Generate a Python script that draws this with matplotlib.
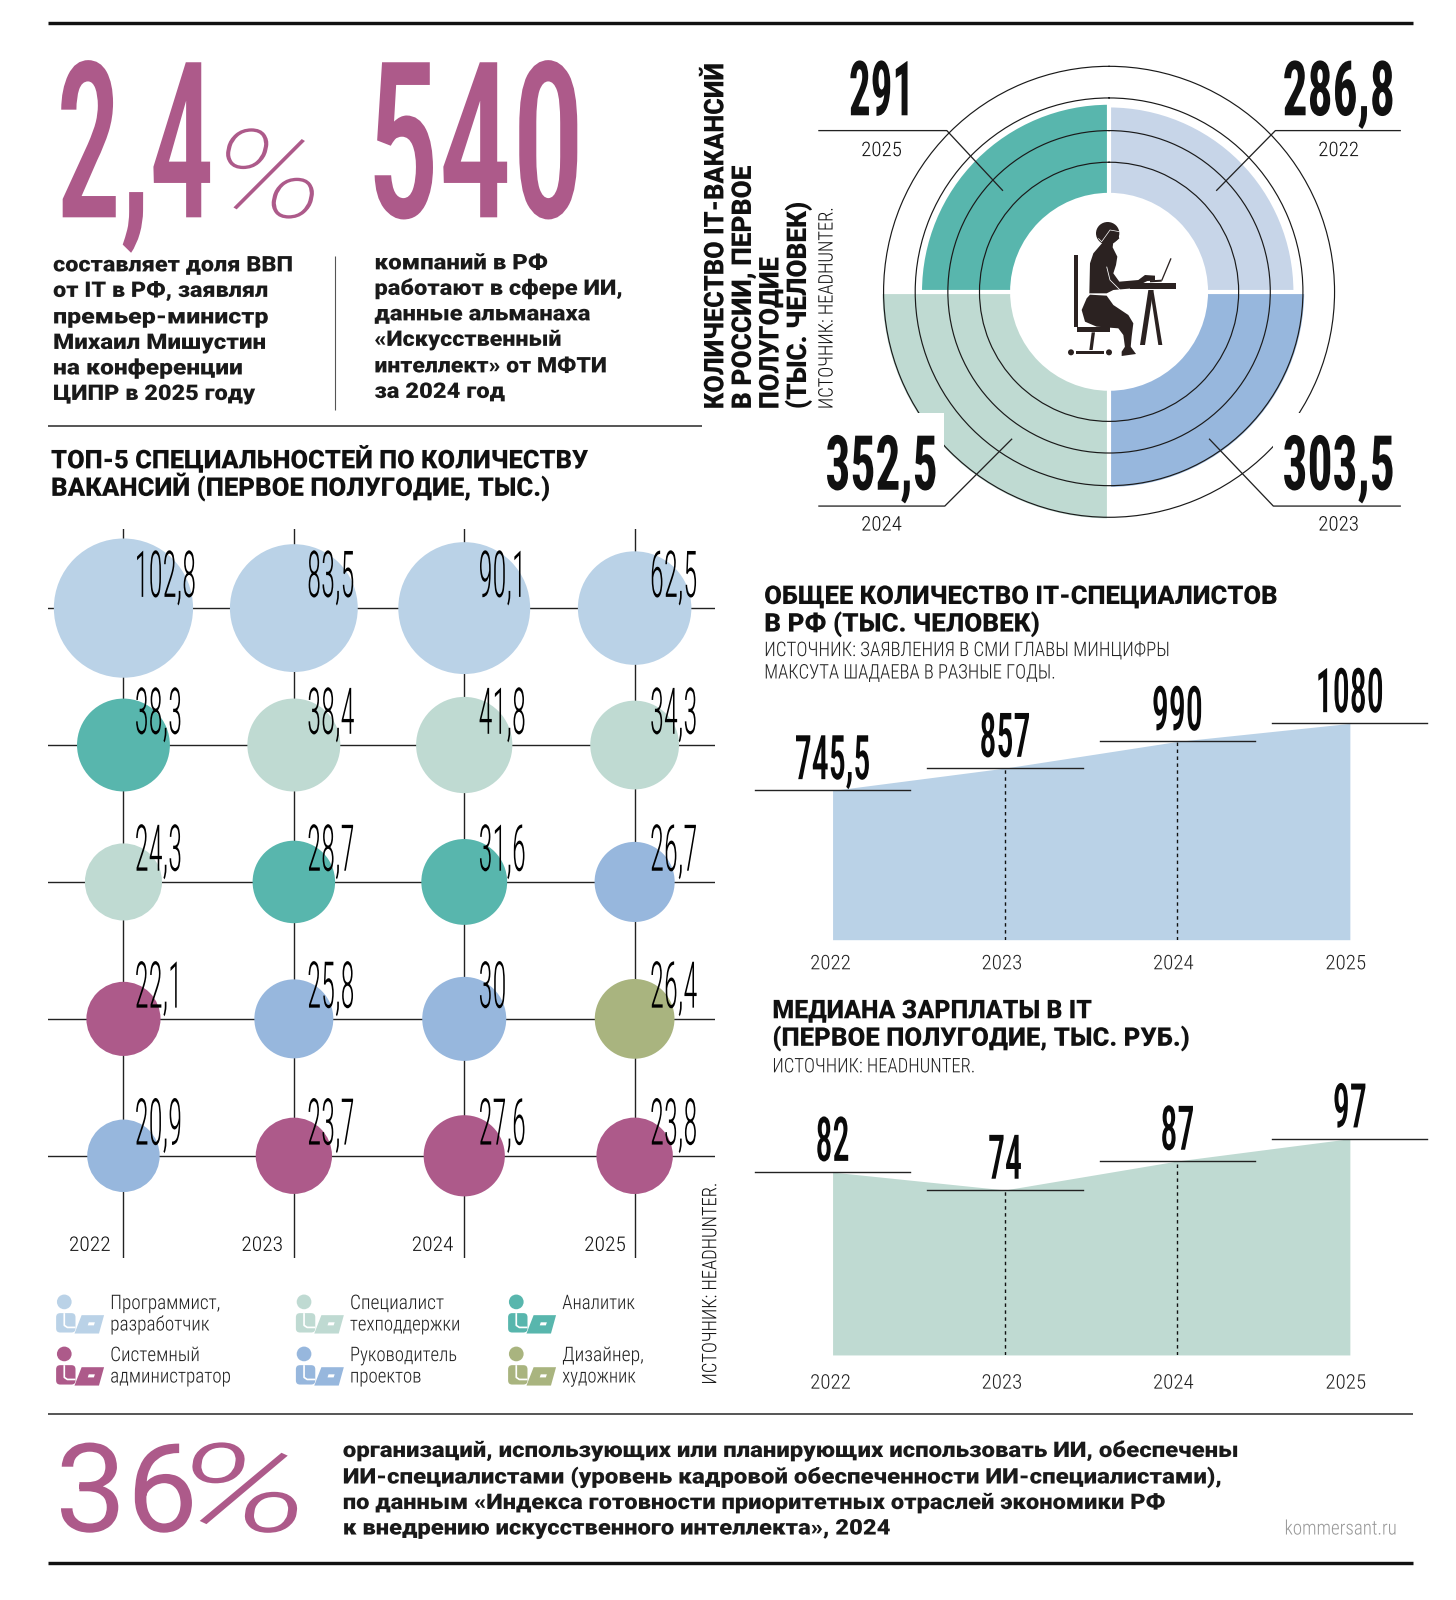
import numpy as np
import matplotlib
matplotlib.use('Agg')
import matplotlib.pyplot as plt
from matplotlib.patches import Ellipse, Polygon, Rectangle, Circle, FancyBboxPatch
from matplotlib.patheffects import AbstractPathEffect
from matplotlib.transforms import Affine2D

# ---------- data ----------
years = ['2022', '2023', '2024', '2025']
vac_years = ['2022', '2023', '2024', '2025']
vacancies = [286.8, 303.5, 352.5, 291]
prog = [102.8, 83.5, 90.1, 62.5]
second = [38.3, 38.4, 41.8, 34.3]
third = [24.3, 28.7, 31.6, 26.7]
fourth = [22.1, 25.8, 30, 26.4]
fifth = [20.9, 23.7, 27.6, 23.8]
second_cat = ['analyst', 'support', 'support', 'support']
third_cat = ['support', 'analyst', 'analyst', 'pm']
fourth_cat = ['admin', 'pm', 'pm', 'designer']
fifth_cat = ['pm', 'admin', 'admin', 'admin']
prog_cat = ['dev', 'dev', 'dev', 'dev']
specialists = [745.5, 857, 990, 1080]
salary = [82, 74, 87, 97]

C = dict(dev='#BAD2E7', support='#BFDAD2', analyst='#58B6AD', admin='#AD5A8A', pm='#97B7DD', designer='#A9B47F')
MAG = '#AD5A8A'
INK = '#111111'
W, H = 1456, 1600
S = 1.0203


class Squeeze(AbstractPathEffect):
    def __init__(self, t):
        super().__init__()
        self.t = t

    def draw_path(self, renderer, gc, tpath, affine, rgbFace=None):
        renderer.draw_path(gc, tpath, affine + self.t, rgbFace)


fig = plt.figure(figsize=(W / 100, H / 100), dpi=100, facecolor='white')


def axes_px(x0, x1, y0, y1, **kw):
    return fig.add_axes([x0 * S / W, 1 - y1 * S / H, (x1 - x0) * S / W, (y1 - y0) * S / H], **kw)


ov = fig.add_axes([0, 0, 1, 1], zorder=10)
ov.set_xlim(0, W / S)
ov.set_ylim(H / S, 0)
ov.axis('off')
ov.patch.set_alpha(0)
rend = fig.canvas.get_renderer()

COND = ['Roboto Condensed', 'DejaVu Sans']
HEAVY = ['Roboto', 'DejaVu Sans']


def T(x, base, s, h=14, w=None, sx=None, family=COND, weight=300, color=INK, ha='left', rot=0, style='normal', z=5,
      tall=False, shift=0):
    """Real text; its glyphs are narrowed along the line. tall=True sets the font at the narrow width and
    stretches the glyphs upward instead, so that the text's own box is as narrow as its glyphs."""
    size = h * S / 0.711 * 0.72
    t = ov.text(x, base, s, fontsize=size, family=family, weight=weight, color=color, ha=ha, va='baseline',
                rotation=rot, rotation_mode='anchor', style=style, zorder=z)
    if w is not None:
        e = t.get_window_extent(rend)
        sx = w * S / (e.height if rot == 90 else e.width)
    if sx is not None:
        ax_, ay_ = ov.transData.transform((x, base))
        if tall:
            t.set_fontsize(size * sx)
            scale = (1, 1 / sx)
        else:
            scale = (sx, 1)
        tr = Affine2D().translate(-ax_, -ay_).rotate_deg(-rot).scale(*scale).rotate_deg(rot).translate(ax_ + shift * S, ay_)
        t.set_path_effects([Squeeze(tr)])
        if not tall:
            orig = t.get_window_extent
            t.get_window_extent = lambda renderer=None, dpi=None, _o=orig, _t=tr: _o(renderer, dpi).transformed(_t)
    return t


def L(xs, ys, lw=1.4, color='#222222', z=3, **kw):
    ov.plot(xs, ys, lw=lw * 0.72, color=color, zorder=z, solid_capstyle='butt', **kw)


def to_shown(ax, x, y):
    return ov.transData.inverted().transform(ax.transData.transform((x, y)))


def fmt(v):
    return f'{v:g}'.replace('.', ',')


# ---------- rules ----------
L([47, 1385], [23, 23], lw=3.4, color='#111111')
L([47, 1385], [1532, 1532], lw=3.4, color='#111111')
L([47, 1385], [1386, 1386], lw=1.5)
L([47, 688], [418, 418], lw=1.5)
L([328, 328], [251, 402], lw=1.1, color='#555555')

# ---------- big numbers ----------
T(55, 213, '2,4', h=152, w=155, weight=500, color=MAG, tall=True)
T(211, 213, '%', h=86, w=112, family=HEAVY, weight=250, style='italic', color=MAG, shift=-4)
T(359, 213, '540', h=152, w=214, weight=500, color=MAG, tall=True)
T(54, 1501, '36', h=86, w=140, family=HEAVY, weight=400, color=MAG, tall=True)
T(196, 1501, '%', h=86, w=133, family=HEAVY, weight=300, style='italic', color=MAG, shift=-25)

left_lines = [('составляет доля ВВП', 235, 266), ('от IT в РФ, заявлял', 211, 291), ('премьер-министр', 211, 317),
              ('Михаил Мишустин', 208, 342), ('на конференции', 186, 367), ('ЦИПР в 2025 году', 198, 392)]
right_lines = [('компаний в РФ', 170, 264), ('работают в сфере ИИ,', 244, 289), ('данные альманаха', 212, 314),
               ('«Искусственный', 183, 339), ('интеллект» от МФТИ', 228, 365), ('за 2024 год', 128, 390)]
for s, w_, b in left_lines:
    T(52, b, s, h=15, w=w_, family=HEAVY, weight=900, color='#1a1a1a')
for s, w_, b in right_lines:
    T(367, b, s, h=15, w=w_, family=HEAVY, weight=900, color='#1a1a1a')

T(50, 459, 'ТОП-5 СПЕЦИАЛЬНОСТЕЙ ПО КОЛИЧЕСТВУ', h=18, w=527, family=HEAVY, weight=900)
T(50, 486, 'ВАКАНСИЙ (ПЕРВОЕ ПОЛУГОДИЕ, ТЫС.)', h=18, w=490, family=HEAVY, weight=900)

for xb, s, w_ in [(709, 'КОЛИЧЕСТВО IT-ВАКАНСИЙ', 339), (736, 'В РОССИИ, ПЕРВОЕ', 239),
                  (763, 'ПОЛУГОДИЕ', 149), (790, '(ТЫС. ЧЕЛОВЕК)', 203)]:
    T(xb, 401, s, h=19, w=w_, family=HEAVY, weight=900, rot=90)
T(816, 401, 'ИСТОЧНИК: HEADHUNTER.', h=14, w=198, rot=90)
T(702, 1357, 'ИСТОЧНИК: HEADHUNTER.', h=14, w=198, rot=90)

# ---------- radial chart ----------
R_SCALE = 0.63
R_MAX = 230 / R_SCALE
HOLE = 97 / R_SCALE
cx, cy = 1087, 286
pol = axes_px(cx - 230, cx + 230, cy - 230, cy + 230, projection='polar', zorder=2)
pol.set_theta_zero_location('N')
pol.set_theta_direction(-1)
theta = np.deg2rad([45, 135, 225, 315])
rad_cols = ['#C7D5E8', C['pm'], C['support'], C['analyst']]
pol.bar(theta, np.array(vacancies) - HOLE, width=np.pi / 2, bottom=HOLE, color=rad_cols, linewidth=0, zorder=1)
for a in np.deg2rad([0, 90, 180, 270]):
    pol.plot([a, a], [HOLE - 5, R_MAX], color='white', lw=3, zorder=2)
pol.set_rlim(0, R_MAX)
pol.set_rgrids(np.array([127, 158, 190, 221]) / R_SCALE, labels=[''] * 4)
pol.set_thetagrids([], [])
pol.set_axisbelow(False)
pol.grid(True, axis='y', color='#1a1a1a', lw=0.85)
pol.grid(False, axis='x')
pol.spines['polar'].set_visible(False)
pol.patch.set_alpha(0)

ov.add_patch(Rectangle((800, 405), 125, 37, fc='white', ec='none', zorder=2))
ov.add_patch(Rectangle((1248, 405), 142, 34, fc='white', ec='none', zorder=2))
L([802, 928, 983], [128, 128, 187], lw=1.3)
L([1373, 1250, 1192], [128, 128, 187], lw=1.3)
L([802, 926, 992], [496, 496, 430], lw=1.3)
L([1373, 1248, 1185], [496, 496, 430], lw=1.3)
T(864, 113, fmt(vacancies[3]), h=53, w=64, weight=700, ha='center')
T(1312, 113, fmt(vacancies[0]), h=53, w=110, weight=700, ha='center')
T(864, 480, fmt(vacancies[2]), h=53, w=110, weight=700, ha='center')
T(1312, 480, fmt(vacancies[1]), h=53, w=110, weight=700, ha='center')
for x_, y_, s in [(864, 153, vac_years[3]), (1312, 153, vac_years[0]), (864, 520, vac_years[2]), (1312, 520, vac_years[1])]:
    T(x_, y_, s, h=14, w=40, ha='center')

PC = '#2B2221'


def Z(zx, zy):
    return ((1060 + zx / 3) / S, (210 + zy / 3) / S)


def poly(pts, col=PC, z=4):
    ov.add_patch(Polygon([Z(*p) for p in pts], fc=col, ec='none', zorder=z))


ov.add_patch(Ellipse(Z(143, 70), 70 / 3 / S, 68 / 3 / S, fc=PC, ec='none', zorder=4))
poly([(170, 65), (178, 85), (170, 92), (160, 90)])
poly([(130, 95), (160, 95), (158, 112), (172, 140), (168, 165), (160, 190), (178, 215), (235, 210), (255, 195), (285, 197),
      (285, 212), (262, 213), (238, 225), (218, 235), (160, 240), (140, 250), (88, 250), (90, 160), (100, 130)])
poly([(90, 254), (140, 257), (160, 285), (205, 315), (220, 340), (215, 380), (212, 412), (195, 412), (190, 375), (175, 355),
      (110, 350), (75, 335), (65, 300), (80, 265)])
poly([(195, 410), (212, 410), (228, 432), (185, 438), (185, 425)])
for a, b, c, d in [(42, 54, 135, 352), (50, 150, 352, 367), (48, 132, 422, 432), (210, 347, 220, 237)]:
    p0, p1 = Z(a, c), Z(b, d)
    ov.add_patch(Rectangle(p0, p1[0] - p0[0], p1[1] - p0[1], fc=PC, ec='none', zorder=4))
poly([(95, 367), (105, 367), (98, 420), (88, 420)])
poly([(265, 240), (280, 240), (255, 405), (240, 405)])
poly([(270, 240), (280, 240), (307, 405), (295, 405)])
for a in (33, 147):
    ov.add_patch(Circle(Z(a, 427), 9 / 3 / S, fc=PC, ec='none', zorder=4))
for pts, col, lw in [([(333, 145), (305, 212)], PC, 1.3), ([(305, 212), (270, 214)], PC, 2),
                     ([(115, 85), (125, 95), (150, 60), (178, 65)], 'white', 0.7),
                     ([(140, 170), (150, 210), (180, 240)], 'white', 0.8)]:
    xy = np.array([Z(*p) for p in pts])
    L(xy[:, 0], xy[:, 1], lw=lw, color=col, z=4.5)

# ---------- bubble grid ----------
rows = [prog, second, third, fourth, fifth]
cats = [prog_cat, second_cat, third_cat, fourth_cat, fifth_cat]
bx = axes_px(47, 701, 518, 1233, zorder=1)
col_w, row_h = 167, 134.2
bx.set_xlim((47 - 121) / col_w, (701 - 121) / col_w)
bx.set_ylim((1233 - 596) / row_h, (518 - 596) / row_h)
bx.axis('off')
for c_ in range(4):
    bx.axvline(c_, color='#222222', lw=1.0, zorder=1)
for r_ in range(5):
    bx.axhline(r_, color='#222222', lw=1.0, zorder=1)
label_dx = [11, 13, 14, 15]
for r_, (vals, cc) in enumerate(zip(rows, cats)):
    vals = np.array(vals, float)
    radius = 35.5 * (vals / 20.9) ** 0.41 * S * 0.72
    bx.scatter(range(4), [r_] * 4, s=(2 * radius) ** 2, c=[C[k] for k in cc], linewidths=0, zorder=2)
    for c_, v in enumerate(vals):
        px_, py_ = to_shown(bx, c_, r_)
        T(px_ + label_dx[c_], py_ - 11, fmt(v), h=45, sx=0.445, weight=300, color='#000000')
for x_, s in zip([88, 257, 424, 593], years):
    T(x_, 1226, s, h=14, w=41, ha='center')


# ---------- legend ----------
def icon(x, y, col):
    ov.add_patch(Circle((x + 9, y), 7.2, fc=col, ec='none', zorder=4))
    ov.add_patch(FancyBboxPatch((x + 4, y + 14), 13, 13, boxstyle='round,pad=3,rounding_size=4', fc=col, ec='none', zorder=4))
    L([x + 9, x + 9, x + 12, x + 20], [y + 11, y + 23, y + 25, y + 25], lw=1.7, color='white', z=4.5)
    ov.add_patch(Polygon([(x + 26, y + 13), (x + 48, y + 13), (x + 43, y + 31), (x + 19, y + 31)], fc=col, ec='none', zorder=4))
    ov.add_patch(Polygon([(x + 33, y + 20), (x + 39, y + 20), (x + 38, y + 23), (x + 32, y + 23)], fc='white', ec='none', zorder=4.5))


legend = [(54, 1276, 108, 'dev', [('Программист,', 108), ('разработчик', 97)]),
          (54, 1327, 108, 'admin', [('Системный', 88), ('администратор', 118)]),
          (289, 1276, 343, 'support', [('Специалист', 92), ('техподдержки', 108)]),
          (289, 1327, 343, 'pm', [('Руководитель', 105), ('проектов', 70)]),
          (497, 1276, 551, 'analyst', [('Аналитик', 71)]),
          (497, 1327, 551, 'designer', [('Дизайнер,', 80), ('художник', 72)])]
for ix, iy, tx, key, lines in legend:
    icon(ix, iy, C[key])
    for i, (s, w_) in enumerate(lines):
        T(tx, iy + 7 + 21 * i, s, h=14, w=w_, color='#222222')

# ---------- area charts ----------
T(749, 592, 'ОБЩЕЕ КОЛИЧЕСТВО IT-СПЕЦИАЛИСТОВ', h=18, w=504, family=HEAVY, weight=900)
T(749, 619, 'В РФ (ТЫС. ЧЕЛОВЕК)', h=18, w=271, family=HEAVY, weight=900)
T(749, 643, 'ИСТОЧНИК: ЗАЯВЛЕНИЯ В СМИ ГЛАВЫ МИНЦИФРЫ', h=14, w=398, color='#222222')
T(749, 665, 'МАКСУТА ШАДАЕВА В РАЗНЫЕ ГОДЫ.', h=14, w=286, color='#222222')
T(757, 998, 'МЕДИАНА ЗАРПЛАТЫ В IT', h=18, w=314, family=HEAVY, weight=900)
T(757, 1025, '(ПЕРВОЕ ПОЛУГОДИЕ, ТЫС. РУБ.)', h=18, w=410, family=HEAVY, weight=900)
T(757, 1051, 'ИСТОЧНИК: HEADHUNTER.', h=14, w=199, color='#222222')


def area(vals, col, y_bottom, y_top, year_base):
    ax = axes_px(816, 1323, y_top, y_bottom, zorder=1)
    ax.set_xlim(0, 3)
    ax.set_ylim(0, max(vals))
    ax.axis('off')
    xs = np.arange(4)
    ax.fill_between(xs, vals, 0, color=col, linewidth=0, zorder=1)
    for i in (1, 2):
        ax.plot([i, i], [0, vals[i]], color='#111111', lw=1, ls=(0, (2.5, 2.5)), zorder=2)
    half = 76 / (507 / 3)
    for i, v in enumerate(vals):
        ax.plot([i - half, i + half], [v, v], color='#222222', lw=1.0, clip_on=False, zorder=3)
        px_, py_ = to_shown(ax, i, v)
        T(px_, py_ - 11, fmt(v), h=43, sx=0.55, weight=500, ha='center', color='#0a0a0a')
    for x_, s in zip([814, 982, 1150, 1319], years):
        T(x_, year_base, s, h=14, w=40, ha='center', color='#222222')


area(specialists, C['dev'], 921, 709, 950)
area(salary, C['support'], 1328, 1116, 1361)

# ---------- bottom text ----------
for s, w_, b in [('организаций, использующих или планирующих использовать ИИ, обеспечены', 878, 1428),
                 ('ИИ-специалистами (уровень кадровой обеспеченности ИИ-специалистами),', 862, 1454),
                 ('по данным «Индекса готовности приоритетных отраслей экономики РФ', 806, 1479),
                 ('к внедрению искусственного интеллекта», 2024', 537, 1504)]:
    T(336, b, s, h=15, w=w_, family=HEAVY, weight=900, color='#1a1a1a')
T(1259, 1504, 'kommersant.ru', h=14, w=110, color='#999999')

fig.savefig('out.png', dpi=100, facecolor='white')
